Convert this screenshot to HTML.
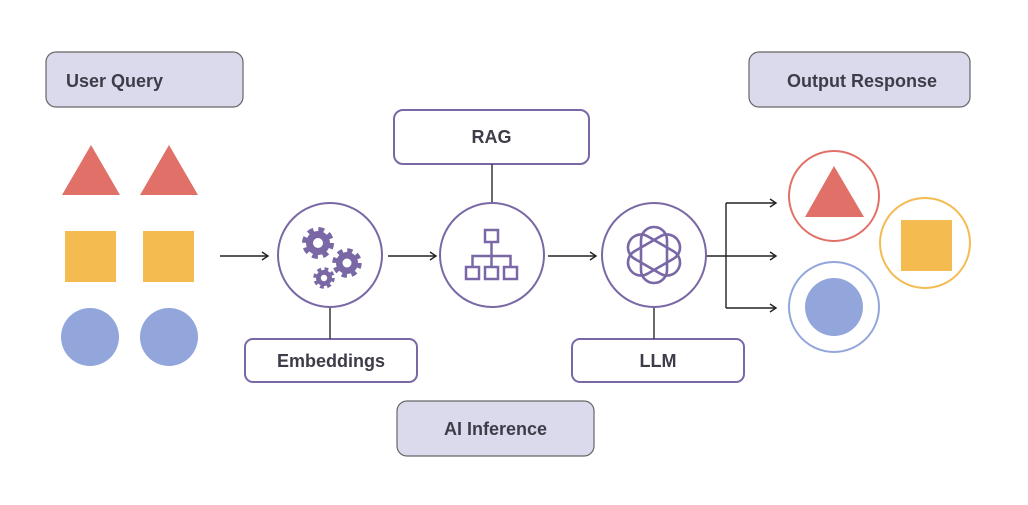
<!DOCTYPE html>
<html><head><meta charset="utf-8"><style>
html,body{margin:0;padding:0;background:#fff;}
svg{display:block;font-family:"Liberation Sans",Arial,sans-serif;}
</style></head><body>
<svg width="1028" height="505" viewBox="0 0 1028 505" xmlns="http://www.w3.org/2000/svg">
<defs>
<marker id="ar" markerWidth="10" markerHeight="10" refX="8" refY="5" orient="auto" markerUnits="userSpaceOnUse">
<path d="M2,1 L8,5 L2,9" fill="none" stroke="#222" stroke-width="1.4"/>
</marker>
</defs>
<g font-weight="bold" font-size="18" fill="#3d3d4a">
<rect x="46" y="52" width="197" height="55" rx="10" fill="#dadaec" stroke="#666" stroke-width="1.2"/>
<text x="66" y="87" fill="#3d3d4a">User Query</text>
<rect x="749" y="52" width="221" height="55" rx="10" fill="#dadaec" stroke="#666" stroke-width="1.2"/>
<text x="862" y="87" text-anchor="middle" fill="#3d3d4a">Output Response</text>
<rect x="397" y="401" width="197" height="55" rx="10" fill="#dadaec" stroke="#666" stroke-width="1.2"/>
<text x="495.5" y="435" text-anchor="middle" fill="#3d3d4a">AI Inference</text>
<rect x="394" y="110" width="195" height="54" rx="9" fill="#fff" stroke="#7a68a6" stroke-width="2"/>
<text x="491.5" y="143" text-anchor="middle" fill="#3d3d4a">RAG</text>
<rect x="245" y="339" width="172" height="43" rx="8" fill="#fff" stroke="#7a68a6" stroke-width="2"/>
<text x="331" y="367" text-anchor="middle" fill="#3d3d4a">Embeddings</text>
<rect x="572" y="339" width="172" height="43" rx="8" fill="#fff" stroke="#7a68a6" stroke-width="2"/>
<text x="658" y="367" text-anchor="middle" fill="#3d3d4a">LLM</text>
</g>
<g fill="#e07068"><polygon points="91,145 120,195 62,195"/><polygon points="169,145 198,195 140,195"/></g>
<g fill="#f4bb50"><rect x="65" y="231" width="51" height="51"/><rect x="143" y="231" width="51" height="51"/></g>
<g fill="#93a6dc"><circle cx="90" cy="337" r="29"/><circle cx="169" cy="337" r="29"/></g>
<g stroke="#222" stroke-width="1.4" fill="none">
<line x1="220" y1="256" x2="268" y2="256" marker-end="url(#ar)"/>
<line x1="388" y1="256" x2="436" y2="256" marker-end="url(#ar)"/>
<line x1="548" y1="256" x2="596" y2="256" marker-end="url(#ar)"/>
<line x1="706" y1="256" x2="776" y2="256" marker-end="url(#ar)"/>
<line x1="726" y1="203" x2="726" y2="308"/>
<line x1="726" y1="203" x2="776" y2="203" marker-end="url(#ar)"/>
<line x1="726" y1="308" x2="776" y2="308" marker-end="url(#ar)"/>
</g>
<g stroke="#444" stroke-width="1.6">
<line x1="492" y1="164" x2="492" y2="203"/>
<line x1="330" y1="307" x2="330" y2="339"/>
<line x1="654" y1="307" x2="654" y2="339"/>
</g>
<g fill="#fff" stroke="#7a68a6" stroke-width="2">
<circle cx="330" cy="255" r="52"/><circle cx="492" cy="255" r="52"/><circle cx="654" cy="255" r="52"/>
</g>
<g fill="#7a68a6" stroke="#7a68a6">
<circle cx="318" cy="243" r="12" stroke-width="0"/>
<circle cx="318" cy="243" r="13" fill="none" stroke-width="6" stroke-dasharray="5.5 4.7"/>
<circle cx="347" cy="263" r="11" stroke-width="0"/>
<circle cx="347" cy="263" r="12" fill="none" stroke-width="5.5" stroke-dasharray="5 4.4"/>
<circle cx="324" cy="278" r="8" stroke-width="0"/>
<circle cx="324" cy="278" r="8.5" fill="none" stroke-width="4.5" stroke-dasharray="3.6 3.1"/>
</g>
<g fill="#fff"><circle cx="318" cy="243" r="5"/><circle cx="347" cy="263" r="4.5"/><circle cx="324" cy="278" r="3.2"/></g>
<g fill="none" stroke="#7a68a6" stroke-width="2.5">
<rect x="485" y="230" width="13" height="12"/>
<rect x="466" y="267" width="13" height="12"/><rect x="485" y="267" width="13" height="12"/><rect x="504" y="267" width="13" height="12"/>
<path d="M491.5,242 V267 M472.5,267 V256 H510.5 V267"/>
</g>
<g fill="none" stroke="#7a68a6" stroke-width="2.6">
<rect x="626" y="242" width="56" height="26" rx="13" transform="rotate(30 654 255)"/>
<rect x="626" y="242" width="56" height="26" rx="13" transform="rotate(90 654 255)"/>
<rect x="626" y="242" width="56" height="26" rx="13" transform="rotate(150 654 255)"/>
</g>
<circle cx="834" cy="196" r="45" fill="#fff" stroke="#e07068" stroke-width="2"/>
<polygon points="834,166 864,217 805,217" fill="#e07068"/>
<circle cx="925" cy="243" r="45" fill="#fff" stroke="#f4bb50" stroke-width="2"/>
<rect x="901" y="220" width="51" height="51" fill="#f4bb50"/>
<circle cx="834" cy="307" r="45" fill="#fff" stroke="#93a6dc" stroke-width="2"/>
<circle cx="834" cy="307" r="29" fill="#93a6dc"/>
</svg>
</body></html>
